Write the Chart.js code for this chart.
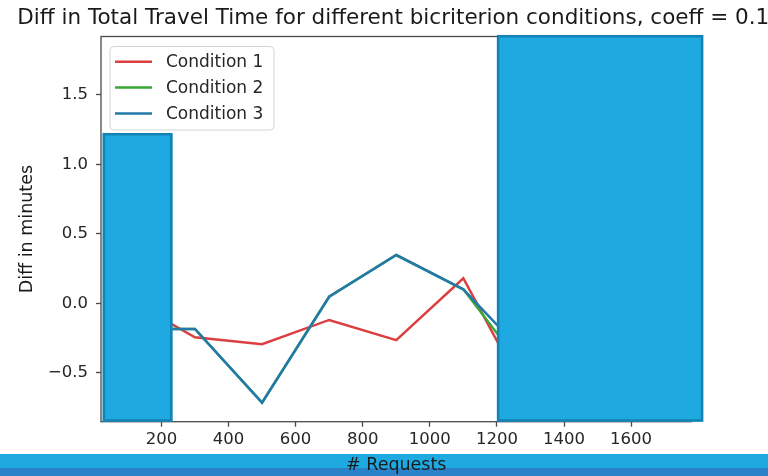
<!DOCTYPE html>
<html>
<head>
<meta charset="utf-8">
<script src="https://cdn.jsdelivr.net/npm/chart.js@4.4.0/dist/chart.umd.min.js"></script>
<style>
  html, body { margin: 0; padding: 0; background: #fff; }
  #wrap { position: relative; width: 768px; height: 476px; overflow: hidden; }
  #band { position: absolute; left: 0; right: 0; top: 454px; height: 14px; background: #1eaae1; }
  #band2 { position: absolute; left: 0; right: 0; top: 468px; height: 8px; background: #2a82c9; }
  canvas { position: absolute; left: 0; top: 0; }
</style>
</head>
<body>
<div id="wrap">
  <div id="band"></div>
  <div id="band2"></div>
  <canvas id="c" width="768" height="476"></canvas>
</div>
<script>
// Number of requests per run
const requests = [100, 300, 500, 700, 900, 1100, 1300];
// Difference in total travel time (minutes) per bicriterion condition
const condition1 = [0.03, -0.245, -0.295, -0.12, -0.265, 0.18, -0.72];
const condition2 = [-0.185, -0.185, -0.715, 0.047, 0.347, 0.10, -0.53];
const condition3 = [-0.185, -0.185, -0.715, 0.047, 0.347, 0.10, -0.41];
const seriesNames = ['Condition 1', 'Condition 2', 'Condition 3'];
const seriesColors = ['#dc3f41', '#37a937', '#2479ab'];

const titleText = 'Diff in Total Travel Time for different bicriterion conditions, coeff = 0.1';
const xTicks = [200, 400, 600, 800, 1000, 1200, 1400, 1600];
const yTicks = [-0.5, 0, 0.5, 1.0, 1.5];
const yTickLabels = ['\u22120.5', '0.0', '0.5', '1.0', '1.5'];

// Shaded blocks laid over the plot, in data units: [xFrom, xTo, yFrom, yTo]
const blockLeft = [25, 233, -0.852, 1.225];
const blockRight = [1200, 1815, -0.852, 1.93];

const FONT = '"DejaVu Sans", sans-serif';
const INK = '#4a4a4a';
const TEXT = '#262626';

const overlay = {
  id: 'overlay',
  afterDatasetsDraw(chart) {
    const { ctx, chartArea: a, scales: { x, y } } = chart;
    ctx.save();

    // axes frame
    ctx.strokeStyle = INK;
    ctx.lineWidth = 1.3;
    ctx.strokeRect(a.left, a.top, a.right - a.left, a.bottom - a.top);

    // title
    ctx.fillStyle = '#1a1a1a';
    ctx.font = '21.5px ' + FONT;
    ctx.textAlign = 'center';
    ctx.textBaseline = 'middle';
    ctx.fillText(titleText, (a.left + a.right) / 2 - 3, 18.5);

    // legend
    const lx = a.left + 9, ly = a.top + 10, lw = 164, lh = 83.5, r = 4;
    ctx.beginPath();
    ctx.moveTo(lx + r, ly);
    ctx.arcTo(lx + lw, ly, lx + lw, ly + lh, r);
    ctx.arcTo(lx + lw, ly + lh, lx, ly + lh, r);
    ctx.arcTo(lx, ly + lh, lx, ly, r);
    ctx.arcTo(lx, ly, lx + lw, ly, r);
    ctx.closePath();
    ctx.fillStyle = 'rgba(255,255,255,0.85)';
    ctx.fill();
    ctx.strokeStyle = '#d4d4d4';
    ctx.lineWidth = 1;
    ctx.stroke();
    ctx.font = '17px ' + FONT;
    ctx.textAlign = 'left';
    chart.data.datasets.forEach((ds, i) => {
      const ry = a.top + 25.3 + i * 25.8;
      ctx.strokeStyle = ds.borderColor;
      ctx.lineWidth = 2.5;
      ctx.beginPath();
      ctx.moveTo(a.left + 14, ry);
      ctx.lineTo(a.left + 51, ry);
      ctx.stroke();
      ctx.fillStyle = TEXT;
      ctx.fillText(ds.label, a.left + 65, ry + 1);
    });

    // shaded blocks
    for (const b of [blockLeft, blockRight]) {
      const x0 = x.getPixelForValue(b[0]), x1 = x.getPixelForValue(b[1]);
      const y0 = y.getPixelForValue(b[3]), y1 = y.getPixelForValue(b[2]);
      ctx.fillStyle = '#1eaae1';
      ctx.fillRect(x0, y0, x1 - x0, y1 - y0);
      ctx.strokeStyle = '#1582b4';
      ctx.lineWidth = 2.5;
      ctx.strokeRect(x0 + 1.25, y0 + 1.25, x1 - x0 - 2.5, y1 - y0 - 2.5);
    }
    ctx.restore();
  }
};

const seriesValues = [condition1, condition2, condition3];

new Chart(document.getElementById('c'), {
  type: 'line',
  data: {
    datasets: seriesValues.map((vals, i) => ({
      label: seriesNames[i],
      data: requests.map((r, j) => ({ x: r, y: vals[j] })),
      borderColor: seriesColors[i],
      backgroundColor: seriesColors[i],
      borderWidth: 2.5,
      pointRadius: 0,
      tension: 0,
      order: 3 - i
    }))
  },
  options: {
    responsive: false,
    devicePixelRatio: 1,
    animation: false,
    layout: { padding: { left: 0, top: 36.5, right: 76.5, bottom: 0 } },
    plugins: {
      legend: { display: false },
      title: { display: false },
      tooltip: { enabled: false }
    },
    scales: {
      x: {
        type: 'linear',
        min: 20,
        max: 1780,
        afterBuildTicks: s => { s.ticks = xTicks.map(v => ({ value: v })); },
        afterFit: s => { s.height = 54.3; },
        grid: { drawOnChartArea: false, drawTicks: true, tickLength: 5, tickColor: INK, tickWidth: 1.3 },
        border: { display: false },
        ticks: {
          color: TEXT, font: { family: FONT, size: 16.5 }, padding: 3,
          maxRotation: 0, autoSkip: false,
          callback: v => String(v)
        },
        title: {
          display: true, text: '# Requests', color: '#1a1a1a',
          font: { family: FONT, size: 17.5 }, padding: { top: 0, bottom: 0 }
        }
      },
      y: {
        type: 'linear',
        min: -0.852,
        max: 1.919,
        afterBuildTicks: s => { s.ticks = yTicks.map(v => ({ value: v })); },
        afterFit: s => { s.width = 101; },
        grid: { drawOnChartArea: false, drawTicks: true, tickLength: 5, tickColor: INK, tickWidth: 1.3 },
        border: { display: false },
        ticks: {
          color: TEXT, font: { family: FONT, size: 16.5 }, padding: 8,
          callback: v => yTickLabels[yTicks.indexOf(v)]
        },
        title: {
          display: true, text: 'Diff in minutes', color: '#1a1a1a',
          font: { family: FONT, size: 17.5 }, padding: { top: 16.5, bottom: 0 }
        }
      }
    }
  },
  plugins: [overlay]
});
</script>
</body>
</html>
